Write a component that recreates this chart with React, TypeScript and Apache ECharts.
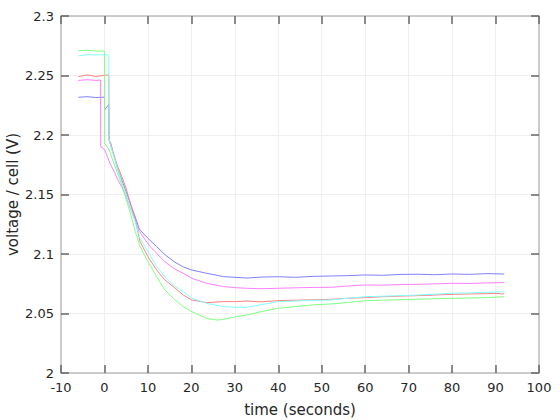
import React, { useEffect, useRef } from "react";
import * as echarts from "echarts";

// time (s) and voltage per cell (V) for each cell trace
const blueT = [-6, -4, -2, 0, 0.02, 1, 1.05, 2, 3, 4, 5, 6, 7, 8, 10, 12, 14, 16, 18, 20, 23.5, 27.4, 30, 33, 36, 40, 44, 48, 52, 56, 60, 64, 68, 72, 76, 80, 84, 88, 92];
const blueV = [2.2317, 2.2322, 2.2315, 2.2318, 2.221, 2.2255, 2.196, 2.185, 2.172, 2.162, 2.152, 2.142, 2.132, 2.121, 2.1132, 2.1062, 2.0992, 2.0936, 2.0894, 2.0866, 2.0838, 2.081, 2.0804, 2.0798, 2.0806, 2.0809, 2.0804, 2.0812, 2.0815, 2.0818, 2.0824, 2.0821, 2.0828, 2.083, 2.0826, 2.0832, 2.0829, 2.0835, 2.0832];

const magentaT = [-6, -4, -2, -0.9, -0.85, 0, 1.3, 2.4, 3, 4, 5, 6, 7, 8, 10.5, 12, 13.9, 15.85, 18.1, 20.1, 23.5, 27.4, 30.2, 32.7, 36, 40, 44, 48, 52, 56, 60, 64, 68, 72, 76, 80, 84, 88, 92];
const magentaV = [2.2458, 2.2465, 2.2458, 2.2462, 2.19, 2.188, 2.176, 2.168, 2.163, 2.156, 2.148, 2.138, 2.129, 2.119, 2.1062, 2.1006, 2.0936, 2.088, 2.0838, 2.0796, 2.0754, 2.0726, 2.0717, 2.0712, 2.0708, 2.0712, 2.0716, 2.0719, 2.072, 2.0731, 2.074, 2.0738, 2.0743, 2.0745, 2.0749, 2.0754, 2.0752, 2.0757, 2.076];

const redT = [-6, -4, -2, 0, 1, 1.05, 1.5, 2, 3, 4, 5, 6, 7, 8.2, 10, 12, 13.9, 15.85, 18.1, 20.1, 23.5, 27.4, 30.2, 32.7, 36, 40, 44, 48, 52, 56, 60, 64, 68, 72, 76, 80, 84, 88, 91, 91.6, 92];
const redV = [2.249, 2.2505, 2.2492, 2.2502, 2.2505, 2.196, 2.193, 2.185, 2.174, 2.165, 2.155, 2.142, 2.13, 2.1104, 2.0978, 2.0866, 2.0782, 2.0726, 2.0656, 2.0614, 2.0591, 2.06, 2.06, 2.0605, 2.0598, 2.0608, 2.0612, 2.0615, 2.0619, 2.0628, 2.0633, 2.0641, 2.0646, 2.065, 2.0655, 2.0661, 2.0664, 2.0667, 2.0668, 2.0662, 2.067];

const cyanT = [-6, -4, -2, 0, 1, 1.05, 2, 3, 4, 5, 6, 7, 8.2, 10, 12, 13.9, 15.85, 18.1, 20.1, 23.5, 27.4, 30.2, 32.7, 36, 40, 44, 48, 52, 56, 60, 64, 68, 72, 76, 80, 84, 88, 92];
const cyanV = [2.2665, 2.2675, 2.2672, 2.2676, 2.2672, 2.196, 2.184, 2.172, 2.16, 2.15, 2.138, 2.128, 2.1132, 2.102, 2.0894, 2.081, 2.074, 2.0684, 2.0628, 2.0586, 2.0557, 2.0552, 2.0552, 2.0574, 2.06, 2.0604, 2.0611, 2.0613, 2.0628, 2.0641, 2.0645, 2.065, 2.0655, 2.0662, 2.067, 2.0673, 2.0678, 2.0683];

const greenT = [-6, -4, -2, 0, 0.05, 1, 2, 3, 4, 5, 6, 7, 8.2, 10, 12, 13.9, 15.85, 18.1, 20.1, 23.5, 26, 27.4, 30.2, 32.7, 36, 40, 44, 48, 52, 56, 60, 64, 68, 72, 76, 80, 84, 88, 92];
const greenV = [2.2708, 2.2712, 2.2706, 2.2705, 2.193, 2.188, 2.178, 2.168, 2.158, 2.146, 2.134, 2.12, 2.1062, 2.0936, 2.081, 2.0698, 2.0628, 2.0557, 2.0516, 2.0459, 2.0445, 2.045, 2.0473, 2.0487, 2.0515, 2.0544, 2.0558, 2.0572, 2.058, 2.0592, 2.0608, 2.0612, 2.0616, 2.062, 2.0624, 2.0628, 2.063, 2.0634, 2.0641];

const xTicks = { min: -10, max: 100, interval: 10 };
const yTicks = { min: 2, max: 2.3, interval: 0.05 };

const seriesDefs = [
  { name: "cell 1", color: "#8080ff", t: blueT, v: blueV },
  { name: "cell 2", color: "#ff80ff", t: magentaT, v: magentaV },
  { name: "cell 3", color: "#ff8080", t: redT, v: redV },
  { name: "cell 4", color: "#80ffff", t: cyanT, v: cyanV },
  { name: "cell 5", color: "#80ff80", t: greenT, v: greenV },
];

const FONT = "DejaVu Sans";

export default function App() {
  const ref = useRef<HTMLDivElement>(null);
  useEffect(() => {
    if (!ref.current) return;
    const chart = echarts.init(ref.current, null, { renderer: "svg" });
    const axisLine = { show: true, onZero: false, lineStyle: { color: "#bdbdbd", width: 1.5 } };
    const axisTick = { show: true, inside: true, length: 8, lineStyle: { color: "#666666", width: 1.5 } };
    const fmt = (v: number) => String(+v.toFixed(2));
    chart.setOption({
      animation: false,
      backgroundColor: "#ffffff",
      grid: { left: 61, top: 16, right: 21, bottom: 47, containLabel: false, outerBoundsMode: "none" },
      xAxis: [
        {
          type: "value",
          position: "bottom",
          ...xTicks,
          axisLine,
          axisTick,
          axisLabel: { color: "#262626", fontSize: 13, fontFamily: FONT, margin: 8, formatter: fmt },
          splitLine: { show: true, lineStyle: { color: "#efefef", width: 1 } },
          name: "time (seconds)",
          nameLocation: "middle",
          nameGap: 29,
          nameMoveOverlap: false,
          nameTextStyle: { color: "#262626", fontSize: 15, fontFamily: FONT },
        },
        {
          type: "value",
          position: "top",
          ...xTicks,
          axisLine,
          axisTick,
          axisLabel: { show: false },
          splitLine: { show: false },
        },
      ],
      yAxis: [
        {
          type: "value",
          position: "left",
          ...yTicks,
          axisLine,
          axisTick,
          axisLabel: { color: "#262626", fontSize: 13, fontFamily: FONT, margin: 7, formatter: fmt },
          splitLine: { show: true, lineStyle: { color: "#efefef", width: 1 } },
          name: "voltage / cell (V)",
          nameLocation: "middle",
          nameGap: 41,
          nameMoveOverlap: false,
          nameTextStyle: { color: "#262626", fontSize: 15, fontFamily: FONT },
        },
        {
          type: "value",
          position: "right",
          ...yTicks,
          axisLine,
          axisTick,
          axisLabel: { show: false },
          splitLine: { show: false },
        },
      ],
      series: seriesDefs.map((s) => ({
        type: "line",
        name: s.name,
        xAxisIndex: 0,
        yAxisIndex: 0,
        showSymbol: false,
        symbol: "none",
        data: s.t.map((t, i) => [t, s.v[i]]),
        lineStyle: { color: s.color, width: 1 },
        itemStyle: { color: s.color },
      })),
    });
    return () => chart.dispose();
  }, []);
  return (
    <div
      ref={ref}
      style={{ position: "fixed", left: 0, top: 0, width: 560, height: 420, background: "#fff" }}
    />
  );
}
